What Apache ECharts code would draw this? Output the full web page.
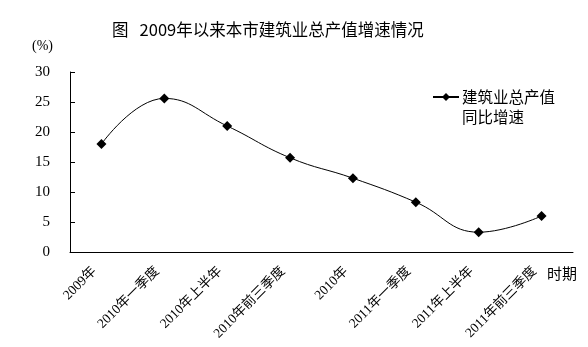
<!DOCTYPE html>
<html>
<head>
<meta charset="utf-8">
<script src="https://cdn.jsdelivr.net/npm/echarts@6/dist/echarts.min.js"></script>
<style>
  html, body { margin: 0; padding: 0; background: #fff; }
  #chart { width: 588px; height: 347px; }
</style>
</head>
<body>
<div id="chart"></div>
<script>
// Periods on the x axis
var categories = ['2009年', '2010年一季度', '2010年上半年', '2010年前三季度',
                  '2010年', '2011年一季度', '2011年上半年', '2011年前三季度'];
// Year-on-year growth of total construction output (%)
var growth = [18.0, 25.6, 21.0, 15.7, 12.3, 8.3, 3.3, 6.0];
// Y axis range and step
var yMin = 0, yMax = 30, yStep = 5;

var cjk = '"Noto Sans CJK SC", sans-serif';
var num = '"Liberation Serif", "Noto Sans CJK SC", serif';

var chart = echarts.init(document.getElementById('chart'));
chart.setOption({
  animation: false,
  backgroundColor: '#fff',
  title: {
    text: '图   2009年以来本市建筑业总产值增速情况',
    left: 107,
    top: 16,
    textStyle: { fontFamily: cjk, fontSize: 16.5, fontWeight: 'normal', color: '#000' }
  },
  legend: {
    left: 427,
    top: 62,
    itemWidth: 26,
    itemHeight: 10,
    itemGap: 6,
    formatter: function () { return '\n建筑业总产值\n同比增速'; },
    textStyle: { fontFamily: cjk, fontSize: 15.5, color: '#000', lineHeight: 20, padding: [0, 0, 0, -2] }
  },
  grid: { left: 70, right: 15, top: 72, bottom: 95 },
  xAxis: {
    type: 'category',
    data: categories,
    boundaryGap: true,
    axisLine: { lineStyle: { color: '#000', width: 1 } },
    axisTick: { inside: true, length: 3, lineStyle: { color: '#000' } },
    axisLabel: {
      rotate: 45,
      interval: 0,
      margin: 10,
      padding: [0, 10, 0, 0],
      fontFamily: num,
      fontSize: 13.5,
      color: '#000'
    }
  },
  yAxis: {
    type: 'value',
    min: yMin,
    max: yMax,
    interval: yStep,
    splitLine: { show: false },
    axisLine: { show: true, lineStyle: { color: '#000', width: 1 } },
    axisTick: { show: true, inside: true, length: 5, lineStyle: { color: '#000' } },
    axisLabel: { margin: 20, fontFamily: num, fontSize: 15, color: '#000' }
  },
  graphic: [
    {
      type: 'text',
      left: 32, top: 39,
      style: { text: '(%)', fontFamily: num, fontSize: 14, fill: '#000' }
    },
    {
      type: 'text',
      left: 547, top: 266,
      style: { text: '时期', fontFamily: cjk, fontSize: 15, fill: '#000' }
    }
  ],
  series: [{
    name: '建筑业总产值同比增速',
    type: 'line',
    data: growth,
    smooth: 0.45,
    symbol: 'diamond',
    symbolSize: 10,
    lineStyle: { color: '#000', width: 1 },
    itemStyle: { color: '#000' }
  }]
});
</script>
</body>
</html>
